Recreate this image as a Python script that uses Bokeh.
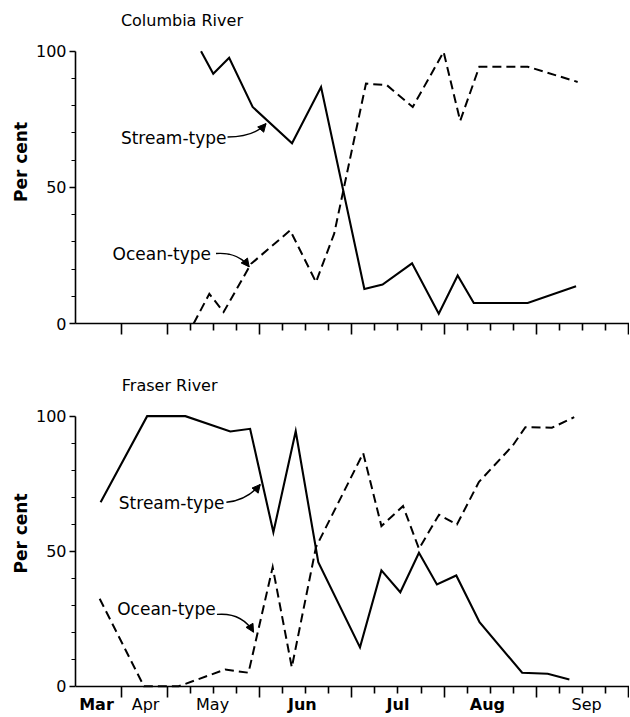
from math import pi
from bokeh.plotting import figure
from bokeh.layouts import column
from bokeh.models import Range1d, FixedTicker, Label, Arrow, NormalHead, ColumnDataSource
from bokeh.embed import file_html
from bokeh.resources import INLINE

# x values: weeks from the start of the time axis
MONTHS = ["Mar", "Apr", "May", "Jun", "Jul", "Aug", "Sep"]
MONTH_POS = [0.91, 3.04, 5.95, 9.85, 14.0, 17.88, 22.19]
MONTH_BOLD = [True, False, False, True, True, True, False]

COL_STREAM_W = [5.45, 5.98, 6.67, 7.69, 9.40, 10.66, 12.54, 13.33, 14.61, 15.77, 16.59, 17.29, 19.63, 21.73]
COL_STREAM_PCT = [100, 91.7, 97.6, 79.5, 66.2, 86.8, 12.7, 14.3, 22.1, 3.6, 17.6, 7.5, 7.5, 13.7]
COL_OCEAN_W = [5.13, 5.81, 6.43, 7.62, 9.32, 10.44, 11.23, 12.61, 13.52, 14.64, 15.98, 16.70, 17.53, 19.63, 21.80]
COL_OCEAN_PCT = [0, 10.9, 4.2, 21.9, 34.2, 15.2, 33.0, 88.1, 87.5, 79.5, 99.7, 74.4, 94.3, 94.3, 88.7]

FRA_STREAM_W = [1.09, 3.11, 4.77, 6.72, 7.58, 8.59, 9.56, 10.54, 12.35, 13.28, 14.10, 14.91, 15.69, 16.53, 17.54, 19.39, 20.50, 21.44]
FRA_STREAM_PCT = [68.1, 100, 100, 94.3, 95.3, 57.0, 94.4, 45.9, 14.4, 42.9, 34.8, 49.4, 37.7, 41.0, 23.7, 5.0, 4.6, 2.5]
FRA_OCEAN_W = [1.05, 2.97, 4.48, 6.50, 7.51, 8.56, 9.39, 10.44, 12.49, 13.28, 14.22, 14.91, 15.78, 16.56, 17.51, 18.98, 19.53, 20.68, 21.65]
FRA_OCEAN_PCT = [32.4, 0, 0, 6.2, 5.0, 44.1, 7.0, 51.5, 86.3, 59.3, 66.7, 50.9, 63.5, 59.9, 75.6, 89.1, 95.9, 95.7, 99.6]

X_MAJOR = [2, 4, 8, 12, 16, 20, 24]
X_MINOR = [5, 6, 7, 9, 10, 11, 13, 14, 15, 17, 18, 19, 21, 22, 23]
Y_MAJOR = [0, 50, 100]
Y_MINOR = [10, 20, 30, 40, 60, 70, 80, 90]

# annotation anchors (data coordinates, vertical middle of the text)
COL_TITLE = ("Columbia River", 1.97, 111.1)
FRA_TITLE = ("Fraser River", 2.01, 111.2)
COL_NOTES = [("Stream-type", 1.97, 68.0, (6.60, 68.5), (7.76, 68.5), (8.27, 73.4)),
             ("Ocean-type", 1.61, 25.4, (6.10, 25.7), (7.04, 26.3), (7.54, 20.8))]
FRA_NOTES = [("Stream-type", 1.88, 67.9, (6.55, 68.1), (7.44, 68.8), (8.02, 74.7)),
             ("Ocean-type", 1.81, 28.5, (6.14, 26.6), (7.22, 27.4), (7.73, 20.0))]
MONTH_Y = -6.8

FONT = "DejaVu Sans"


def panel(width, height, left, bottom, yr, title, notes, sw, sp, ow, op, fixed):
    p = figure(width=width, height=height, x_range=Range1d(0, 24.05), y_range=Range1d(*yr),
               output_backend="svg", toolbar_location=None,
               min_border_left=left, min_border_right=0, min_border_top=0, min_border_bottom=bottom)
    p.grid.visible = False
    p.outline_line_color = None
    p.background_fill_color = "white"
    p.border_fill_color = "white"

    xa = p.xaxis[0]
    xa.ticker = FixedTicker(ticks=X_MAJOR, minor_ticks=X_MINOR)
    xa.major_label_overrides = {t: "" for t in X_MAJOR}
    xa.major_label_standoff = 0
    xa.major_tick_out = 11
    xa.major_tick_in = 0
    xa.minor_tick_out = 7
    xa.minor_tick_in = 0
    xa.axis_line_width = 1.6
    xa.axis_line_color = "black"
    xa.major_tick_line_color = "black"
    xa.minor_tick_line_color = "black"
    xa.major_tick_line_width = 1.6
    xa.minor_tick_line_width = 1.6
    if fixed:
        xa.fixed_location = 0

    ya = p.yaxis[0]
    ya.bounds = (0, 100)
    ya.ticker = FixedTicker(ticks=Y_MAJOR, minor_ticks=Y_MINOR)
    ya.major_tick_out = 6
    ya.major_tick_in = 0
    ya.minor_tick_out = 4
    ya.minor_tick_in = 0
    ya.axis_line_width = 1.6
    ya.major_tick_line_width = 1.4
    ya.minor_tick_line_width = 1.2
    ya.major_label_text_font = FONT
    ya.major_label_text_font_size = "16px"
    ya.major_label_text_color = "black"
    ya.major_label_standoff = 3
    ya.axis_label = "Per cent"
    ya.axis_label_text_font = FONT
    ya.axis_label_text_font_style = "bold"
    ya.axis_label_text_font_size = "17px"
    ya.axis_label_text_color = "black"
    ya.axis_label_standoff = 2

    p.line(sw, sp, line_color="black", line_width=2.1, line_join="miter")
    p.line(ow, op, line_color="black", line_width=2.0, line_dash="9 5", line_join="miter")

    p.add_layout(Label(x=title[1], y=title[2], text=title[0], text_font=FONT,
                       text_font_size="16px", text_color="black", text_baseline="middle"))

    src = ColumnDataSource(dict(x0=[n[3][0] for n in notes], y0=[n[3][1] for n in notes],
                                cx=[n[4][0] for n in notes], cy=[n[4][1] for n in notes],
                                x1=[n[5][0] for n in notes], y1=[n[5][1] for n in notes]))
    p.quadratic(x0="x0", y0="y0", x1="x1", y1="y1", cx="cx", cy="cy", source=src,
                line_color="black", line_width=1.4)
    for n in notes:
        p.add_layout(Label(x=n[1], y=n[2], text=n[0], text_font=FONT, text_font_size="17px",
                           text_color="black", text_baseline="middle"))
        p.add_layout(Arrow(end=NormalHead(size=8, fill_color="black", line_color="black", line_width=1),
                           x_start=n[4][0], y_start=n[4][1], x_end=n[5][0], y_end=n[5][1],
                           line_alpha=0))
    return p


p1 = panel(629, 350, 75, 27, (0, 118.6), COL_TITLE, COL_NOTES, COL_STREAM_W, COL_STREAM_PCT,
           COL_OCEAN_W, COL_OCEAN_PCT, False)
p2 = panel(629, 366, 72, 0, (-11.2, 124.3), FRA_TITLE, FRA_NOTES, FRA_STREAM_W, FRA_STREAM_PCT,
           FRA_OCEAN_W, FRA_OCEAN_PCT, True)

for name, pos, bold in zip(MONTHS, MONTH_POS, MONTH_BOLD):
    p2.add_layout(Label(x=pos, y=MONTH_Y, text=name, text_font=FONT, text_font_size="16px",
                        text_font_style="bold" if bold else "normal", text_align="center",
                        text_baseline="middle", text_color="black"))

layout = column(p1, p2, spacing=0)
open("out.html", "w").write(file_html(layout, INLINE))
